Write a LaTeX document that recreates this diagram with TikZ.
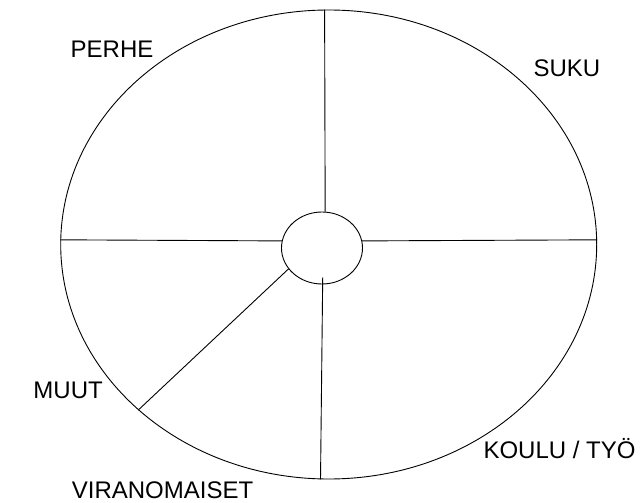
\documentclass[tikz,border=0pt]{standalone}
\usepackage{fontspec}
\setmainfont{Liberation Sans}
\usetikzlibrary{positioning, shapes.geometric}

\begin{document}
\begin{tikzpicture}[x=1pt, y=-1pt,
    rim/.style={draw, ellipse, inner sep=0pt, line width=0.9pt},
    spoke/.style={line width=0.9pt},
    sector/.style={font=\fontsize{24}{28}\selectfont, inner sep=0pt, anchor=base west}]

  \useasboundingbox (0,0) rectangle (641,503);

  \node[rim, minimum width=536pt, minimum height=469pt] (ring) at (328.7,244.5) {};
  \node[rim, minimum width=81pt, minimum height=72pt] (hub) at (322,248) {};

  \draw[spoke] (ring.91) -- (hub.85);
  \draw[spoke] (ring.179) -- (hub.170);
  \draw[spoke] (hub.10) -- (ring.1);
  \draw[spoke, shorten <=-7pt] (hub.271) -- (ring.268);
  \draw[spoke] (hub.212) -- (ring.221);

  \node[sector] (perhe) at (70.5,57.5) {PERHE};
  \node[sector] (suku) at (533.3,76.7) {SUKU};
  \node[sector] (muut) at (33.3,398.3) {MUUT};
  \node[sector] (koulu) at (483.3,458.3) {KOULU / TYÖ};
  \node[sector] (viranom) at (71.7,498.5) {VIRANOMAISET};
\end{tikzpicture}
\end{document}
